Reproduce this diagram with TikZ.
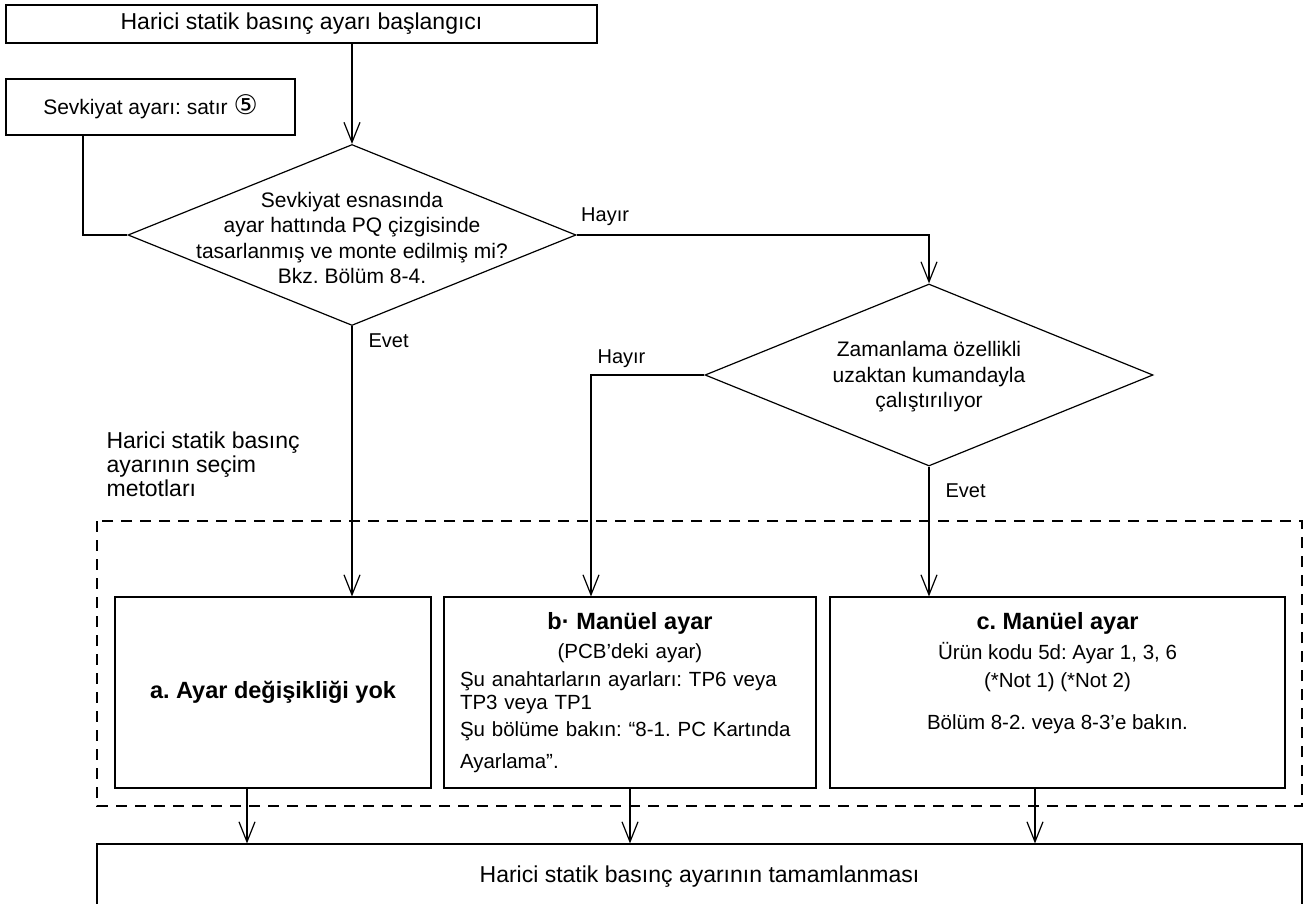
\documentclass[tikz,border=0pt]{standalone}
\usepackage{fontspec}
\setmainfont{Liberation Sans}
\newfontfamily\symfont{DejaVu Sans}
\usepackage{tikz}
\usetikzlibrary{arrows.meta,shapes.geometric}
\frenchspacing

\newcommand{\fsbig}{\fontsize{23}{26}\selectfont}
\newcommand{\fsdia}{\fontsize{21}{25.5}\selectfont}
\newcommand{\fsbody}{\fontsize{20.5}{23}\selectfont}
\newcommand{\fstitle}{\fontsize{23.5}{23}\selectfont\bfseries}

\begin{document}
\begin{tikzpicture}[x=1pt,y=-1pt,>={Straight Barb[length=20pt,width=16pt]},line width=1.2pt]
\tikzstyle{box}=[rectangle,draw=black,align=center,inner sep=0pt]
\tikzstyle{dia}=[diamond,draw=black,inner sep=0pt]
\tikzstyle{dtext}=[align=center,font=\fsdia,inner sep=0pt]
\tikzstyle{lbl}=[font=\fontsize{20}{24}\selectfont,inner sep=0pt]
\useasboundingbox (0,0) rectangle (1304,904);
\clip (0,0) rectangle (1304,904);

\node[box,minimum width=591pt,minimum height=38pt,font=\fsbig] (start) at (301.5,24) {Harici statik basınç ayarı başlangıcı};
\node[box,minimum width=289pt,minimum height=56pt,font=\fsdia] (ship) at (150.5,107) {Sevkiyat ayarı: satır {\symfont\fontsize{27}{25}\selectfont ⑤}};

% decisions
\node[dia,minimum width=448pt,minimum height=181pt] (q1) at (352,235) {};
\node[dtext] at ([yshift=-3pt]q1.center) {Sevkiyat esnasında\\ayar hattında PQ çizgisinde\\tasarlanmış ve monte edilmiş mi?\\Bkz. Bölüm 8-4.};
\node[dia,minimum width=448pt,minimum height=182pt] (q2) at (929,375) {};
\node[dtext] at ([yshift=-2pt]q2.center) {Zamanlama özellikli\\uzaktan kumandayla\\çalıştırılıyor};

\node[anchor=north west,align=left,font=\fontsize{23}{24}\selectfont,inner sep=0pt] (methods) at (106,431) {Harici statik basınç\\ayarının seçim\\metotları};
\draw[line width=2.2pt,dash pattern=on 11pt off 8pt] (97,521) rectangle (1302,806);

% options
\node[box,minimum width=316pt,minimum height=191pt] (optA) at (273,692.5) {\fstitle a. Ayar değişikliği yok};
\node[box,minimum width=372pt,minimum height=191pt,text width=340pt,align=left,font=\fsbody] (optB) at (630,692.5) {\makebox[\linewidth]{\fstitle b· Manüel ayar}\\[6pt]
\makebox[\linewidth]{(PCB’deki ayar)}\\[5pt]
Şu anahtarların ayarları: TP6 veya\\
TP3 veya TP1\\[4pt]
Şu bölüme bakın: “8-1. PC Kartında\\[9pt]
Ayarlama”.};
\node[box,minimum width=455pt,minimum height=191pt,font=\fsbody] (optC) at (1057.5,692.5) {{\fstitle c. Manüel ayar}\\[7pt]
Ürün kodu 5d: Ayar 1, 3, 6\\[5pt]
(*Not 1) (*Not 2)\\[19pt]
Bölüm 8-2. veya 8-3’e bakın.\\[20pt]
\mbox{}};
\node[box,minimum width=1205pt,minimum height=66pt,font=\fsbig] (done) at (699.5,877) {Harici statik basınç ayarının tamamlanması};

% connectors
\draw[->] (start.south -| q1.north) -- (q1.north);
\draw ([xshift=-67.5pt]ship.south) |- (q1.west);
\draw[->] (q1.east) node[lbl,anchor=south west,xshift=4pt,yshift=9pt] {Hayır} -| (q2.north);
\draw[->] (q1.south) node[lbl,anchor=north west,xshift=16pt,yshift=-7pt] {Evet} -- (q1.south |- optA.north);
\draw[->] (q2.west) -| node[lbl,pos=0.5,anchor=south west,xshift=6pt,yshift=7pt] {Hayır} ([xshift=-39pt]optB.north);
\draw[->] (q2.south) node[lbl,anchor=north west,xshift=16pt,yshift=-16.5pt] {Evet} -- (q2.south |- optC.north);
\draw[->] ([xshift=-26pt]optA.south) -- ([xshift=-26pt]optA.south |- done.north);
\draw[->] (optB.south) -- (optB.south |- done.north);
\draw[->] ([xshift=-22.5pt]optC.south) -- ([xshift=-22.5pt]optC.south |- done.north);
\end{tikzpicture}
\end{document}
